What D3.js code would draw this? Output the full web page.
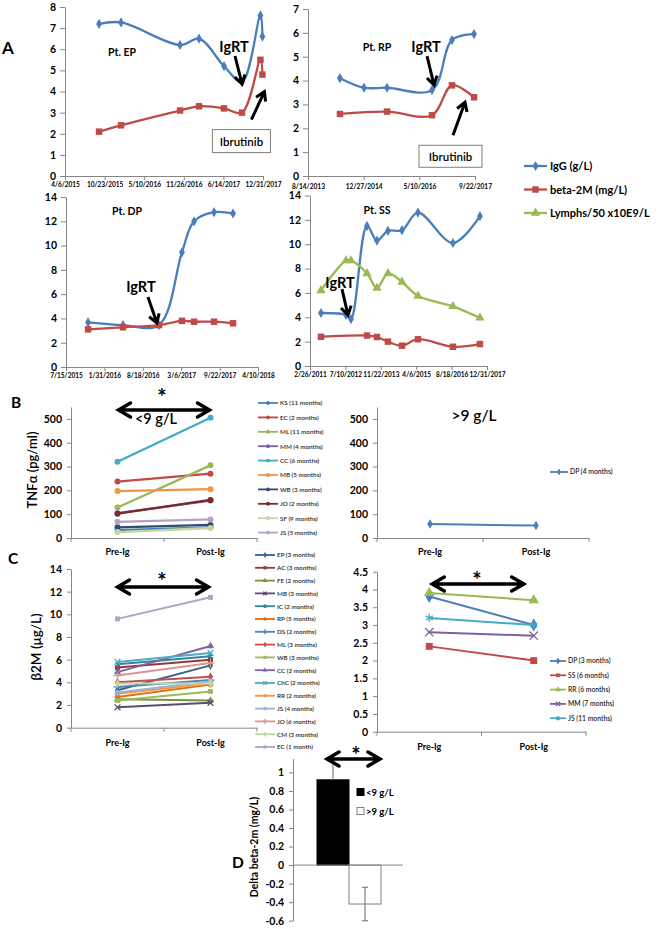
<!DOCTYPE html>
<html><head><meta charset="utf-8">
<script src="https://cdn.jsdelivr.net/npm/d3@7"></script>
<style>body{margin:0;background:#fff}svg{display:block}</style>
</head><body><svg id="c" width="664" height="929"></svg>
<script>
// ---------------- DATA ----------------
// Panel A
const epDates = ["2015-09-25","2016-01-14","2016-11-07","2017-02-11","2017-06-17","2017-09-16","2017-12-18","2017-12-28"];
const epIgG = [7.2,7.27,6.2,6.5,5.2,4.45,7.6,6.6];
const epB2M = [2.1,2.4,3.1,3.3,3.2,3.0,5.5,4.8];
const epTicks = ["4/6/2015","10/23/2015","5/10/2016","11/26/2016","6/14/2017","12/31/2017"];

const rpDates = ["2014-05-28","2014-12-30","2015-07-25","2016-09-01","2017-02-27","2017-09-13"];
const rpIgG = [4.1,3.7,3.7,3.6,5.7,5.95];
const rpB2MDates = ["2014-05-28","2015-07-25","2016-09-01","2017-02-27","2017-09-13"];
const rpB2M = [2.6,2.7,2.55,3.8,3.3];
const rpTicks = ["8/14/2013","12/27/2014","5/10/2016","9/22/2017"];

const dpDates = ["2015-11-07","2016-05-07","2016-11-10","2017-03-10","2017-05-12","2017-08-24","2017-12-01"];
const dpIgG = [3.68,3.45,3.45,9.45,12.0,12.75,12.65];
const dpB2M = [3.1,3.27,3.45,3.8,3.73,3.73,3.6];
const dpTicks = ["7/15/2015","1/31/2016","8/18/2016","3/6/2017","9/22/2017","4/10/2018"];

const ssDates = ["2011-07-31","2012-07-18","2012-09-27","2013-05-11","2013-09-29","2014-03-03","2014-09-17","2015-05-01","2016-09-06","2017-09-22"];
const ssIgG = [4.35,4.2,3.85,11.5,10.3,11.1,11.15,12.6,10.1,12.3];
const ssLymph = [6.2,8.65,8.65,7.6,6.4,7.6,6.9,5.75,4.9,3.95];
const ssB2MDates = ["2011-07-31","2013-05-11","2013-09-29","2014-03-03","2014-09-17","2015-05-01","2016-09-06","2017-09-22"];
const ssB2M = [2.4,2.5,2.38,2.0,1.67,2.2,1.58,1.8];
const ssTicks = ["2/26/2011","7/10/2012","11/22/2013","4/6/2015","8/18/2016","12/31/2017"];

const aLegend = ["IgG (g/L)","beta-2M (mg/L)","Lymphs/50 x10E9/L"];

// Panel B
const phases = ["Pre-Ig","Post-Ig"];
const bNames = ["KS (11 months)","EC (2 months)","ML (11 months)","MM (4 months)","CC (6 months)","MB (5 months)","WB (3 months)","JO (2 months)","SF (9 months)","JS (5 months)"];
const bPre  = [33,237,128,104,320,197,45,102,25,68];
const bPost = [45,270,305,157,505,205,55,160,42,78];
const bRightNames = ["DP (4 months)"];
const bRightPre = [59];
const bRightPost = [52];
const bTicks = [0,100,200,300,400,500];

// Panel C
const cNames = ["EP (3 months)","AC (3 months)","FE (2 months)","MB (3 months)","IC (2 months)","RP (5 months)","DS (2 months)","ML (3 months)","WB (3 months)","CC (2 months)","ChC (2 months)","RR (2 months)","JS (4 months)","JO (6 months)","CM (3 months)","EC (1 month)"];
const cPre  = [3.3,5.3,2.5,1.8,5.6,2.7,3.6,4.0,2.4,4.9,5.8,3.0,3.1,4.6,3.9,9.6];
const cPost = [5.5,6.0,2.4,2.2,6.3,3.8,4.2,4.5,3.2,7.2,6.6,3.9,4.1,5.7,3.9,11.5];
const cTicks = [0,2,4,6,8,10,12,14];
const cRightNames = ["DP (3 months)","SS (6 months)","RR (6 months)","MM (7 months)","JS (11 months)"];
const cRightPre  = [3.8,2.4,3.9,2.8,3.2];
const cRightPost = [3.0,2.0,3.7,2.7,3.0];
const cRightTicks = [0,0.5,1,1.5,2,2.5,3,3.5,4,4.5];

// Panel D
const dGroups = ["<9 g/L",">9 g/L"];
const dMeans = [0.92,-0.42];
const dErr = [0.23,0.18];
const dTicks = [-0.6,-0.4,-0.2,0,0.2,0.4,0.6,0.8,1];

// ---------------- DRAWING ----------------
const svg = d3.select("#c");
const F = "Lato, 'Open Sans', sans-serif";
const AX = "#868686";
const BLUE="#4A7EBB", RED="#BE4B48", GREEN="#98B954";
const pt = d3.timeParse("%Y-%m-%d");
const pl = d3.timeParse("%m/%d/%Y");
const STROKE_SYMS = [d3.symbolTimes, d3.symbolAsterisk, d3.symbolPlus];

function styleAxis(g, fs, fw){
  g.select(".domain").attr("stroke", AX);
  g.selectAll(".tick line").attr("stroke", AX);
  g.selectAll(".tick text").attr("fill","#000").style("font-family",F)
    .style("font-size",fs+"px").style("font-weight",fw||"bold");
}
function txt(x,y,s,fs,opt){
  opt=opt||{};
  return svg.append("text").attr("x",x).attr("y",y).text(s)
    .attr("text-anchor",opt.anchor||"middle").style("font-family",F)
    .style("font-size",fs+"px").style("font-weight",opt.fw||"bold").attr("fill",opt.fill||"#000");
}
function marker(g,x,y,type,size,color){
  const isStroke = STROKE_SYMS.includes(type);
  g.append("path").attr("transform",`translate(${x},${y})`)
    .attr("d",d3.symbol().type(type).size(size)())
    .attr("fill",isStroke?"none":color).attr("stroke",isStroke?color:"none").attr("stroke-width",1.3);
}
function arrow(x1,y1,x2,y2){
  const a=Math.atan2(y2-y1,x2-x1),L=10,w=0.55;
  const p=`M${x1},${y1}L${x2},${y2}M${x2-L*Math.cos(a-w)},${y2-L*Math.sin(a-w)}L${x2},${y2}L${x2-L*Math.cos(a+w)},${y2-L*Math.sin(a+w)}`;
  svg.append("path").attr("d",p).attr("stroke","#000").attr("stroke-width",3).attr("fill","none");
}
function dblArrow(x1,x2,y){
  const L=12,h=7;
  const p=`M${x1},${y}L${x2},${y}M${x1+L},${y-h}L${x1},${y}L${x1+L},${y+h}M${x2-L},${y-h}L${x2},${y}L${x2-L},${y+h}`;
  svg.append("path").attr("d",p).attr("stroke","#000").attr("stroke-width",3.5).attr("fill","none").attr("stroke-linecap","round");
}

function dateChart(o){
  const g=svg.append("g");
  const x=d3.scaleTime().domain([pl(o.ticks[0]),pl(o.ticks[o.ticks.length-1])]).range([o.x0,o.x1]);
  const y=d3.scaleLinear().domain([0,o.ymax]).range([o.y0,o.y1]);
  g.append("g").attr("transform",`translate(0,${o.y0})`)
    .call(d3.axisBottom(x).tickValues(o.ticks.map(pl)).tickFormat((d,i)=>o.ticks[i]).tickSize(4).tickSizeOuter(0).tickPadding(o.xpad||2))
    .call(a=>styleAxis(a,o.xfs||6.5));
  g.append("g").attr("transform",`translate(${o.x0},0)`)
    .call(d3.axisLeft(y).tickValues(d3.range(0,o.ymax+0.001,o.ystep)).tickFormat(d3.format("d")).tickSize(5).tickSizeOuter(0).tickPadding(4))
    .call(a=>styleAxis(a,10.5));
  const line=d3.line().curve(d3.curveCatmullRom.alpha(0.5)).x(d=>x(d[0])).y(d=>y(d[1]));
  o.series.forEach(s=>{
    const pts=s.dates.map((d,i)=>[pt(d),s.vals[i]]);
    g.append("path").attr("d",line(pts)).attr("fill","none").attr("stroke",s.color).attr("stroke-width",2.3);
    pts.forEach(d=>marker(g,x(d[0]),y(d[1]),s.sym,s.size,s.color));
  });
  return {x,y};
}

// ---- Panel A ----
txt(2,54,"A",17,{anchor:"start"});

const ep=dateChart({x0:65,x1:263,y0:176,y1:7,ymax:8,ystep:1,ticks:epTicks,series:[
  {dates:epDates,vals:epIgG,color:BLUE,sym:d3.symbolDiamond,size:30},
  {dates:epDates,vals:epB2M,color:RED,sym:d3.symbolSquare,size:42}]});
txt(122,56,"Pt. EP",10.5);
{ const px=ep.x(pt(epDates[5])), py=ep.y(epIgG[5]);
  txt(px-8,py-30,"IgRT",14.5); arrow(px-7,py-26,px,py+2);
  const qx=ep.x(pt(epDates[7])), qy=ep.y(epB2M[7]);
  arrow(qx-11,qy+45,qx+2,qy+17);
  svg.append("rect").attr("x",qx-50).attr("y",qy+55).attr("width",58).attr("height",23).attr("fill","#fff").attr("stroke","#7f7f7f").attr("stroke-width",1);
  txt(qx-21,qy+71,"Ibrutinib",11.5,{fw:"600"}); }

const rp=dateChart({x0:308,x1:475,y0:176,y1:9,ymax:7,ystep:1,ticks:rpTicks,xfs:6.6,xpad:4,series:[
  {dates:rpDates,vals:rpIgG,color:BLUE,sym:d3.symbolDiamond,size:30},
  {dates:rpB2MDates,vals:rpB2M,color:RED,sym:d3.symbolSquare,size:42}]});
txt(377,51,"Pt. RP",10.5);
{ const px=rp.x(pt(rpDates[3])), py=rp.y(rpIgG[3]);
  txt(px-6,py-38,"IgRT",14.5); arrow(px-5,py-34,px+2,py-5);
  const qx=rp.x(pt(rpB2MDates[4])), qy=rp.y(rpB2M[4]);
  arrow(qx-21,qy+38,qx-9,qy+5);
  svg.append("rect").attr("x",qx-55).attr("y",qy+48).attr("width",63).attr("height",22).attr("fill","#fff").attr("stroke","#7f7f7f").attr("stroke-width",1);
  txt(qx-23.5,qy+63.5,"Ibrutinib",11.5,{fw:"600"}); }

const dp=dateChart({x0:66,x1:258,y0:367,y1:197,ymax:14,ystep:2,ticks:dpTicks,series:[
  {dates:dpDates,vals:dpIgG,color:BLUE,sym:d3.symbolDiamond,size:30},
  {dates:dpDates,vals:dpB2M,color:RED,sym:d3.symbolSquare,size:42}]});
txt(127,215,"Pt. DP",10.5);
{ const px=dp.x(pt(dpDates[2])), py=dp.y(dpIgG[2]);
  txt(px-18,py-33,"IgRT",14.5); arrow(px-11,py-28,px-2,py-2); }

const ss=dateChart({x0:310,x1:487,y0:366,y1:195.5,ymax:14,ystep:2,ticks:ssTicks,series:[
  {dates:ssDates,vals:ssIgG,color:BLUE,sym:d3.symbolDiamond,size:30},
  {dates:ssB2MDates,vals:ssB2M,color:RED,sym:d3.symbolSquare,size:42},
  {dates:ssDates,vals:ssLymph,color:GREEN,sym:d3.symbolTriangle,size:38}]});
txt(377,214,"Pt. SS",10.5);
{ const px=ss.x(pt(ssDates[2])), py=ss.y(ssIgG[2]);
  txt(px-11,py-31,"IgRT",14.5); arrow(px-9,py-30,px-3,py-4); }

// A legend
{ const cols=[BLUE,RED,GREEN], syms=[d3.symbolDiamond,d3.symbolSquare,d3.symbolTriangle], sz=[30,42,38];
  const g=svg.append("g");
  aLegend.forEach((n,i)=>{
    const yy=166+i*23.5;
    g.append("line").attr("x1",524).attr("x2",547).attr("y1",yy).attr("y2",yy).attr("stroke",cols[i]).attr("stroke-width",2.3);
    marker(g,535.5,yy,syms[i],sz[i],cols[i]);
    txt(550,yy+4,n,11,{anchor:"start"});
  }); }

// ---- Category charts (B, C) ----
const symCycle=[d3.symbolDiamond,d3.symbolSquare,d3.symbolTriangle,d3.symbolTimes,d3.symbolAsterisk,d3.symbolCircle,d3.symbolPlus];
function catChart(o){
  const g=svg.append("g");
  const x=d3.scaleBand().domain(phases).range([o.x0,o.x1]);
  const y=d3.scaleLinear().domain([0,o.ymax]).range([o.y0,o.y1]);
  g.append("g").attr("transform",`translate(0,${o.y0})`)
    .call(d3.axisBottom(x).tickSize(0).tickPadding(o.pad))
    .call(a=>styleAxis(a,9));
  [o.x0, o.x0+x.step(), o.x1].forEach(t=>g.append("line").attr("x1",t).attr("x2",t).attr("y1",o.y0).attr("y2",o.y0+4).attr("stroke",AX));
  g.append("g").attr("transform",`translate(${o.x0},0)`)
    .call(d3.axisLeft(y).tickValues(o.ticks).tickFormat(o.fmt||d3.format("d")).tickSize(4).tickSizeOuter(0).tickPadding(5))
    .call(a=>styleAxis(a,10.5));
  const cx=p=>x(p)+x.bandwidth()/2;
  o.names.forEach((n,i)=>{
    const col=o.colors[i], s=o.syms?o.syms[i]:symCycle[i%symCycle.length];
    g.append("line").attr("x1",cx(phases[0])).attr("x2",cx(phases[1])).attr("y1",y(o.pre[i])).attr("y2",y(o.post[i]))
      .attr("stroke",col).attr("stroke-width",o.lw);
    marker(g,cx(phases[0]),y(o.pre[i]),s,o.msize,col);
    marker(g,cx(phases[1]),y(o.post[i]),s,o.msize,col);
    const ly=o.ly+i*o.ldy;
    g.append("line").attr("x1",o.lx).attr("x2",o.lx+o.lw2).attr("y1",ly).attr("y2",ly).attr("stroke",col).attr("stroke-width",1.8);
    marker(g,o.lx+o.lw2/2,ly,s,o.lms,col);
    txt(o.lx+o.lw2+2,ly+2.3,n,o.lfs,{anchor:"start",fw:"600",fill:"#262626"});
  });
  return {x,y,cx};
}

// Panel B
txt(11,408,"B",15.5,{anchor:"start"});
const bCols=["#4A7EBB","#BE4B48","#98B954","#7D60A0","#46AAC5","#F69240","#2C4D75","#772C2A","#C3D69B","#B3A2C7"];
const bl=catChart({x0:71,x1:257,y0:538,y1:407,ymax:550,ticks:bTicks,pad:11,names:bNames,pre:bPre,post:bPost,colors:bCols,
  syms:bNames.map(()=>d3.symbolCircle),lw:2.3,msize:28,lx:258,lw2:20,ly:403,ldy:14.4,lms:12,lfs:6.3});
const br=catChart({x0:377,x1:589,y0:538,y1:407,ymax:550,ticks:bTicks,pad:11,names:bRightNames,pre:bRightPre,post:bRightPost,colors:["#4A7EBB"],
  syms:[d3.symbolDiamond],lw:2,msize:26,lx:550,lw2:18,ly:472,ldy:14,lms:14,lfs:6.8});
svg.append("text").attr("transform","translate(37,470) rotate(-90)").attr("text-anchor","middle")
  .style("font-family",F).style("font-size","13px").style("font-weight","600").text("TNFα (pg/ml)");
dblArrow(bl.cx(phases[0])+1,bl.cx(phases[1])-1,410);
txt(162,405,"*",22);
txt(156,424,"<9 g/L",14.5,{fw:"600"});
txt(474,421,">9 g/L",15.5,{fw:"600"});

// Panel C
txt(8,564,"C",15.5,{anchor:"start"});
const cCols=["#3A5F8B","#953735","#76923C","#5F497A","#31859C","#E46C0A","#4F81BD","#C0504D","#9BBB59","#8064A2","#4BACC6","#F79646","#95B3D7","#D99694","#C3D69B","#B3A2C7"];
const cl=catChart({x0:71,x1:257,y0:727.7,y1:569,ymax:14,ticks:cTicks,pad:12,names:cNames,pre:cPre,post:cPost,colors:cCols,
  lw:2,msize:24,lx:255,lw2:20,ly:555,ldy:12.8,lms:10,lfs:6.3});
const cRCols=["#4A7EBB","#BE4B48","#98B954","#7D60A0","#46AAC5"];
const cr=catChart({x0:377,x1:586,y0:731.7,y1:571.7,ymax:4.5,ticks:cRightTicks,fmt:d=>String(d),pad:12,names:cRightNames,pre:cRightPre,post:cRightPost,colors:cRCols,
  syms:[d3.symbolDiamond,d3.symbolSquare,d3.symbolTriangle,d3.symbolTimes,d3.symbolAsterisk],lw:2,msize:48,lx:550,lw2:16,ly:661,ldy:14.3,lms:14,lfs:6.8});
svg.append("text").attr("transform","translate(41,647) rotate(-90)").attr("text-anchor","middle")
  .style("font-family",F).style("font-size","13.5px").style("font-weight","600").text("β2M (μg/L)");
dblArrow(cl.cx(phases[0]),cl.cx(phases[1])-2,587);
txt(162,589,"*",22);
dblArrow(cr.cx(phases[0])+3,cr.cx(phases[1])-10,584);
txt(477,588,"*",22);

// Panel D
txt(232,868,"D",15.5,{anchor:"start"});
{ const g=svg.append("g");
  const y=d3.scaleLinear().domain([-0.6,1.15]).range([920.7,758.5]);
  const x=d3.scaleBand().domain(dGroups).range([317,381]);
  const fmt=d=>{const r=Math.round(d*10)/10; return r===0?"0":String(r).replace("−","-");};
  g.append("g").attr("transform","translate(293,0)")
    .call(d3.axisLeft(y).tickValues(dTicks).tickFormat(fmt).tickSize(4).tickSizeOuter(0).tickPadding(5))
    .call(a=>styleAxis(a,10.5));
  dGroups.forEach((k,i)=>{
    const v=dMeans[i], top=y(Math.max(0,v)), h=Math.abs(y(v)-y(0));
    g.append("rect").attr("x",x(k)).attr("y",top).attr("width",x.bandwidth()).attr("height",h)
      .attr("fill",i===0?"#000":"#fff").attr("stroke",i===0?"#000":"#7f7f7f").attr("stroke-width",1);
    const cxp=x(k)+x.bandwidth()/2;
    const lo=v>=0?v:v-dErr[i], hi=v+dErr[i];
    g.append("line").attr("x1",cxp).attr("x2",cxp).attr("y1",y(lo)).attr("y2",y(hi)).attr("stroke","#7f7f7f").attr("stroke-width",1.2);
    [hi].concat(v<0?[lo]:[]).forEach(t=>g.append("line").attr("x1",cxp-3).attr("x2",cxp+3).attr("y1",y(t)).attr("y2",y(t)).attr("stroke","#7f7f7f").attr("stroke-width",1.2));
  });
  g.append("line").attr("x1",293).attr("x2",403).attr("y1",y(0)).attr("y2",y(0)).attr("stroke",AX);
  // legend
  dGroups.forEach((k,i)=>{
    const ly=792+i*19;
    g.append("rect").attr("x",357).attr("y",ly-3.5).attr("width",7).attr("height",7).attr("fill",i===0?"#000":"#fff").attr("stroke",i===0?"#000":"#7f7f7f");
    txt(366,ly+3.5,k,9.5,{anchor:"start"});
  });
  svg.append("text").attr("transform","translate(258,847) rotate(-90)").attr("text-anchor","middle")
    .style("font-family",F).style("font-size","10.5px").style("font-weight","bold").text("Delta beta-2m (mg/L)");
  dblArrow(x(dGroups[0])+10,x(dGroups[1])+x.bandwidth()-1,759);
  txt(356,763,"*",22);
}
</script></body></html>
